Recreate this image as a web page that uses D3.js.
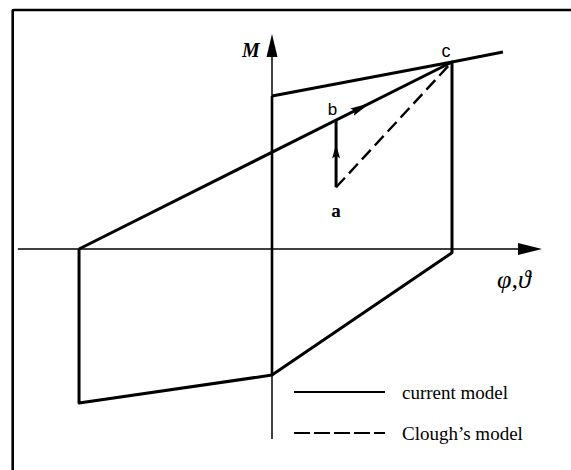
<!DOCTYPE html>
<html>
<head>
<meta charset="utf-8">
<script src="https://cdn.jsdelivr.net/npm/d3@7/dist/d3.min.js"></script>
<style>
  html, body { margin: 0; padding: 0; background: #fff; }
  svg { display: block; }
</style>
</head>
<body>
<svg id="chart" width="571" height="470"></svg>
<script>
// Hysteresis model for moment M versus rotation φ,ϑ (normalised units)
const skeletonTop = [[0, 0.818], [1.0, 1.0], [1.283, 1.053]];
const hysteresisLoop = [[-1.072, 0], [1.0, 1.0], [1.0, -0.02], [0, -0.674], [-1.072, -0.824], [-1.072, 0]];
const elasticBranch = [[0, 0.818], [0, -0.674]];
const reloadPath = [[0.356, 0.33], [0.356, 0.687]];   // a -> b
const cloughPath = [[0.356, 0.33], [1.0, 1.0]];       // a -> c
const xAxisExtent = [-1.412, 1.5];
const yAxisExtent = [-1.016, 1.15];
const legendItems = [
  { label: "current model", dashed: false },
  { label: "Clough\u2019s model", dashed: true }
];

const svg = d3.select("#chart");
const x = d3.scaleLinear().domain([-1.4, 1.6]).range([20, 560]);
const y = d3.scaleLinear().domain([-1.2, 1.2]).range([473.4, 24.6]);
const line = d3.line().x(d => x(d[0])).y(d => y(d[1]));

// frame
svg.append("path")
  .attr("d", "M12.7,470 V11 Q12.7,10 14,10 H571")
  .attr("fill", "none").attr("stroke", "#000").attr("stroke-width", 2.6);

// axes
const ax = svg.append("g").attr("stroke", "#000").attr("stroke-width", 1.5);
ax.append("line")
  .attr("x1", x(xAxisExtent[0])).attr("x2", x(xAxisExtent[1]) - 12)
  .attr("y1", y(0)).attr("y2", y(0));
ax.append("line")
  .attr("x1", x(0)).attr("x2", x(0))
  .attr("y1", y(yAxisExtent[0])).attr("y2", y(yAxisExtent[1]) + 12);

// axis arrowheads
const xt = [x(xAxisExtent[1]), y(0)];
svg.append("path")
  .attr("d", `M${xt[0]},${xt[1]} L${xt[0] - 24},${xt[1] - 6} L${xt[0] - 24},${xt[1] + 6} Z`)
  .attr("fill", "#000");
const yt = [x(0), y(yAxisExtent[1])];
svg.append("path")
  .attr("d", `M${yt[0]},${yt[1]} L${yt[0] - 5.5},${yt[1] + 23} L${yt[0] + 5.5},${yt[1] + 23} Z`)
  .attr("fill", "#000");

// model curves
const curves = svg.append("g").attr("fill", "none").attr("stroke", "#000")
  .attr("stroke-linejoin", "round").attr("stroke-width", 3);
curves.append("path").attr("d", line(skeletonTop));
curves.append("path").attr("d", line(hysteresisLoop));
curves.append("path").attr("d", line(elasticBranch)).attr("stroke-width", 2.6);
curves.append("path").attr("d", line(reloadPath));
curves.append("path").attr("d", line(cloughPath))
  .attr("stroke-width", 2.4).attr("stroke-dasharray", "13,6");

// direction arrows along the loading paths
function arrowAt(from, to, t, len, half) {
  const px = x(from[0]) + (x(to[0]) - x(from[0])) * t;
  const py = y(from[1]) + (y(to[1]) - y(from[1])) * t;
  const ang = Math.atan2(y(to[1]) - y(from[1]), x(to[0]) - x(from[0]));
  svg.append("path")
    .attr("d", `M0,0 L${-len},${-half} L${-len + 3},0 L${-len},${half} Z`)
    .attr("transform", `translate(${px},${py}) rotate(${ang * 180 / Math.PI})`)
    .attr("fill", "#000");
}
arrowAt([-1.072, 0], [1.0, 1.0], 0.78, 20, 4);
arrowAt(reloadPath[0], reloadPath[1], 0.64, 14, 4);

// point labels
const lbl = svg.append("g");
lbl.append("text").text("c")
  .attr("x", x(1.0) - 6).attr("y", y(1.0) - 5)
  .attr("text-anchor", "middle")
  .style("font", "18px 'Liberation Sans', Arial, sans-serif");
lbl.append("text").text("b")
  .attr("x", x(0.356) - 3.5).attr("y", y(0.687) - 6)
  .attr("text-anchor", "middle")
  .style("font", "17px 'Liberation Sans', Arial, sans-serif");
lbl.append("text").text("a")
  .attr("x", x(0.356)).attr("y", y(0.33) + 30)
  .attr("text-anchor", "middle")
  .style("font", "bold 19px 'Liberation Serif', 'Times New Roman', serif");

// axis titles
svg.append("text").text("M")
  .attr("x", x(0) - 30).attr("y", 57)
  .style("font", "bold italic 20px 'Liberation Serif', 'Times New Roman', serif");
svg.append("text").text("\u03c6,\u03d1")
  .attr("x", 497).attr("y", 288)
  .style("font", "italic 26px 'Liberation Serif', 'Times New Roman', serif");

// legend
const leg = svg.append("g").attr("transform", "translate(294,392)");
legendItems.forEach((d, i) => {
  const g = leg.append("g").attr("transform", `translate(0,${i * 41})`);
  g.append("line").attr("x1", 0).attr("x2", 91).attr("y1", 0).attr("y2", 0)
    .attr("stroke", "#000").attr("stroke-width", 2.2)
    .attr("stroke-dasharray", d.dashed ? "16,4" : null);
  g.append("text").text(d.label).attr("x", 108).attr("y", 7)
    .style("font", "19px 'Liberation Serif', 'Times New Roman', serif");
});
</script>
</body>
</html>
